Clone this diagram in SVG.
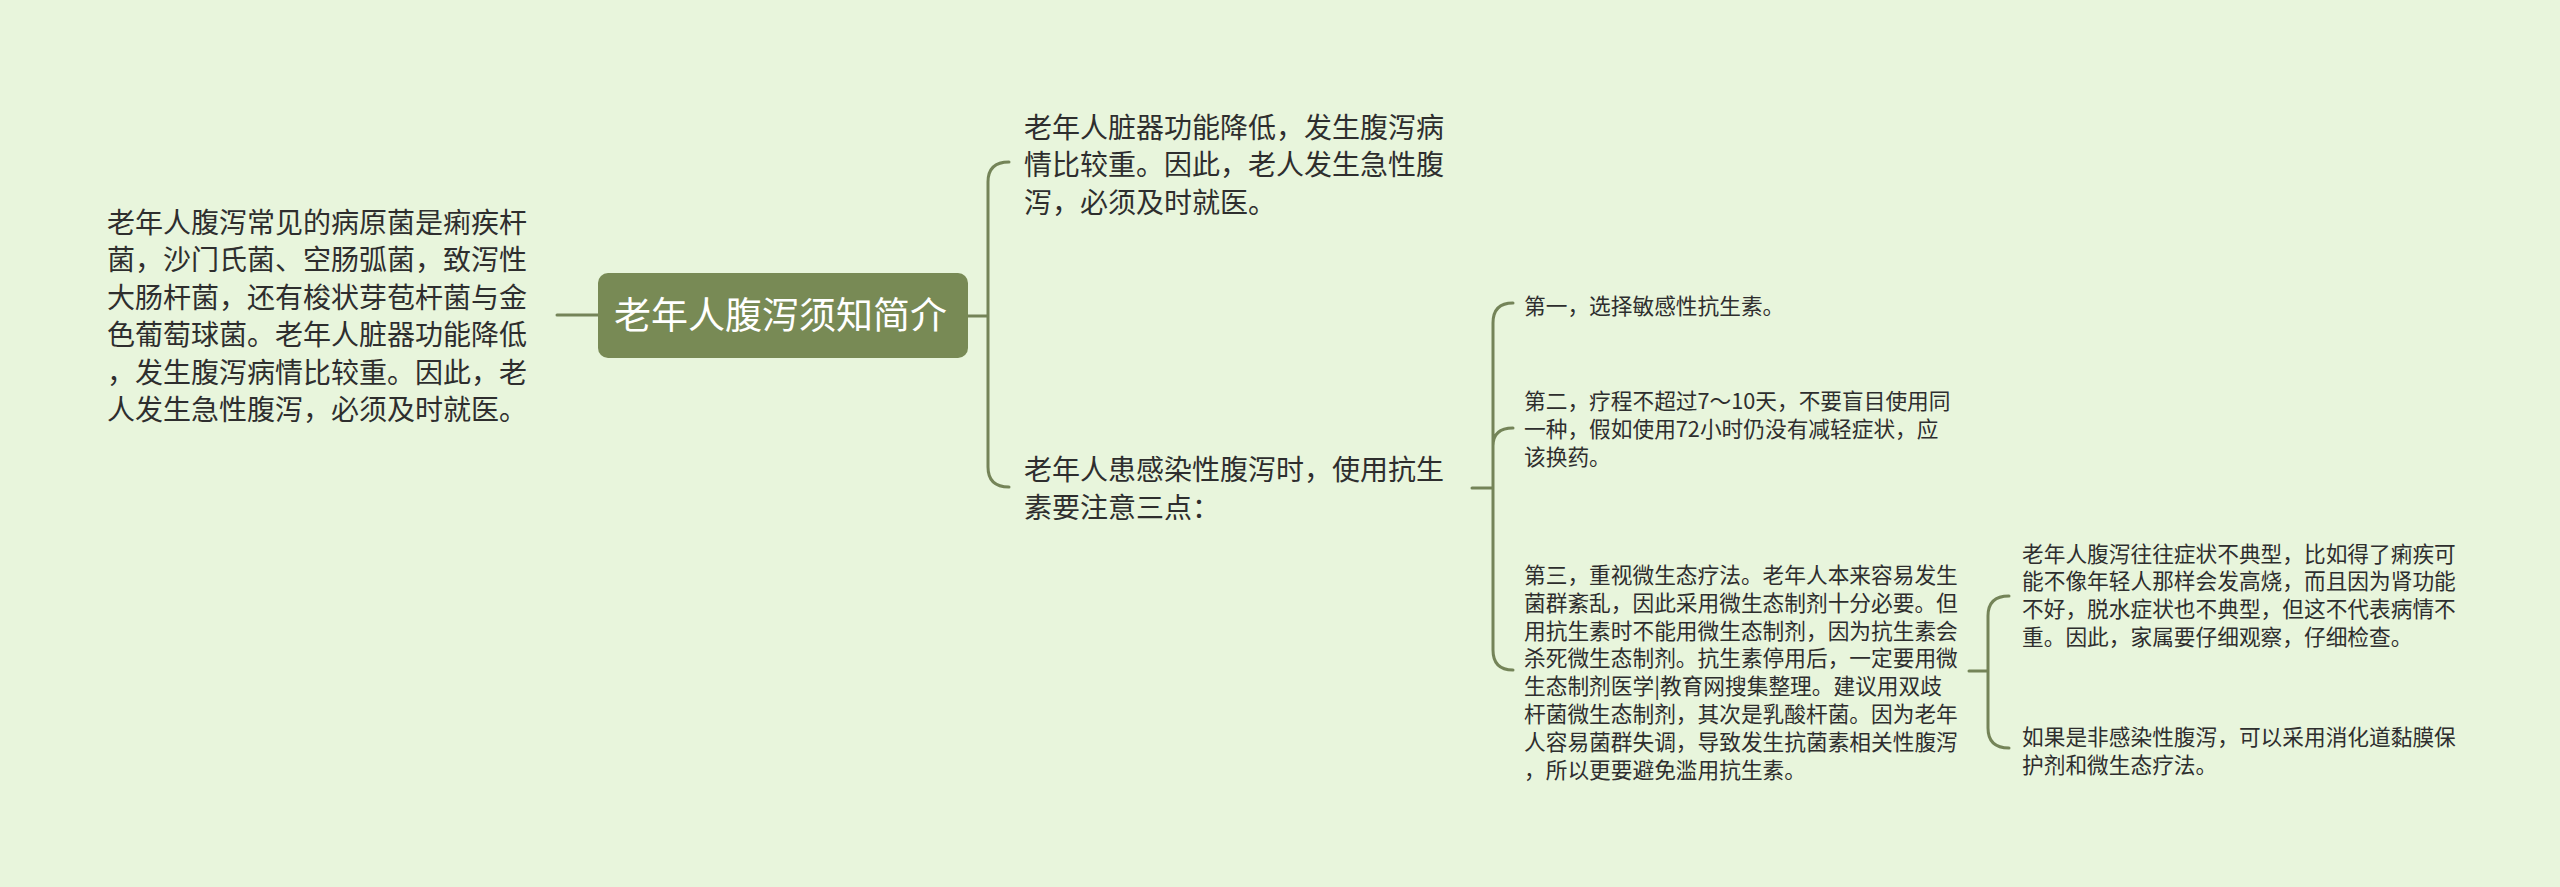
<svg xmlns="http://www.w3.org/2000/svg" width="2560" height="887" viewBox="0 0 2560 887">
<style>
.t{font-family:"Noto Sans CJK SC","Liberation Sans",sans-serif;fill:#2e2e2e}
.l{font-size:28px}
.s{font-size:21.7px}
.c{fill:none;stroke:#748458;stroke-width:3;stroke-linecap:round}
</style>
<rect width="2560" height="887" fill="#e8f5dc"/>
<g id="connectors">
<path class="c" d="M557,315 H598"/>
<path class="c" d="M968,316 H988 M1009,162 Q988,162 988,182 V467 Q988,487 1009,487"/>
<path class="c" d="M1472,488 H1493 M1513,303 Q1493,303 1493,323 V650 Q1493,670 1513,670 M1493,446 Q1493,428 1513,428"/>
<path class="c" d="M1969,671 H1988 M2009,596 Q1988,596 1988,616 V728 Q1988,748 2009,748"/>
</g>
<g id="root">
<rect x="598" y="273" width="370" height="85" rx="10" fill="#788a55"/>
<text class="t" x="614" y="328.5" font-size="37" style="fill:#ffffff">老年人腹泻须知简介</text>
</g>
<g id="left">
<text class="t l" x="107">
<tspan x="107" y="233">老年人腹泻常见的病原菌是痢疾杆</tspan>
<tspan x="107" y="270.4">菌，沙门氏菌、空肠弧菌，致泻性</tspan>
<tspan x="107" y="307.8">大肠杆菌，还有梭状芽苞杆菌与金</tspan>
<tspan x="107" y="345.2">色葡萄球菌。老年人脏器功能降低</tspan>
<tspan x="107" y="382.6">，发生腹泻病情比较重。因此，老</tspan>
<tspan x="107" y="420">人发生急性腹泻，必须及时就医。</tspan>
</text>
</g>
<g id="n1">
<text class="t l">
<tspan x="1024" y="137.5">老年人脏器功能降低，发生腹泻病</tspan>
<tspan x="1024" y="175">情比较重。因此，老人发生急性腹</tspan>
<tspan x="1024" y="212.5">泻，必须及时就医。</tspan>
</text>
</g>
<g id="n2">
<text class="t l">
<tspan x="1024" y="480">老年人患感染性腹泻时，使用抗生</tspan>
<tspan x="1024" y="518">素要注意三点：</tspan>
</text>
</g>
<g id="n2a">
<text class="t s" x="1524" y="313.5">第一，选择敏感性抗生素。</text>
</g>
<g id="n2b">
<text class="t s">
<tspan x="1524" y="409">第二，疗程不超过7～10天，不要盲目使用同</tspan>
<tspan x="1524" y="437">一种，假如使用72小时仍没有减轻症状，应</tspan>
<tspan x="1524" y="465">该换药。</tspan>
</text>
</g>
<g id="n2c">
<text class="t s">
<tspan x="1524" y="583">第三，重视微生态疗法。老年人本来容易发生</tspan>
<tspan x="1524" y="610.8">菌群紊乱，因此采用微生态制剂十分必要。但</tspan>
<tspan x="1524" y="638.6">用抗生素时不能用微生态制剂，因为抗生素会</tspan>
<tspan x="1524" y="666.4">杀死微生态制剂。抗生素停用后，一定要用微</tspan>
<tspan x="1524" y="694.2">生态制剂医学|教育网搜集整理。建议用双歧</tspan>
<tspan x="1524" y="722">杆菌微生态制剂，其次是乳酸杆菌。因为老年</tspan>
<tspan x="1524" y="749.8">人容易菌群失调，导致发生抗菌素相关性腹泻</tspan>
<tspan x="1524" y="777.6">，所以更要避免滥用抗生素。</tspan>
</text>
</g>
<g id="n2c1">
<text class="t s">
<tspan x="2022" y="561.5">老年人腹泻往往症状不典型，比如得了痢疾可</tspan>
<tspan x="2022" y="589.3">能不像年轻人那样会发高烧，而且因为肾功能</tspan>
<tspan x="2022" y="617.1">不好，脱水症状也不典型，但这不代表病情不</tspan>
<tspan x="2022" y="644.9">重。因此，家属要仔细观察，仔细检查。</tspan>
</text>
</g>
<g id="n2c2">
<text class="t s">
<tspan x="2022" y="745">如果是非感染性腹泻，可以采用消化道黏膜保</tspan>
<tspan x="2022" y="773">护剂和微生态疗法。</tspan>
</text>
</g>
</svg>
